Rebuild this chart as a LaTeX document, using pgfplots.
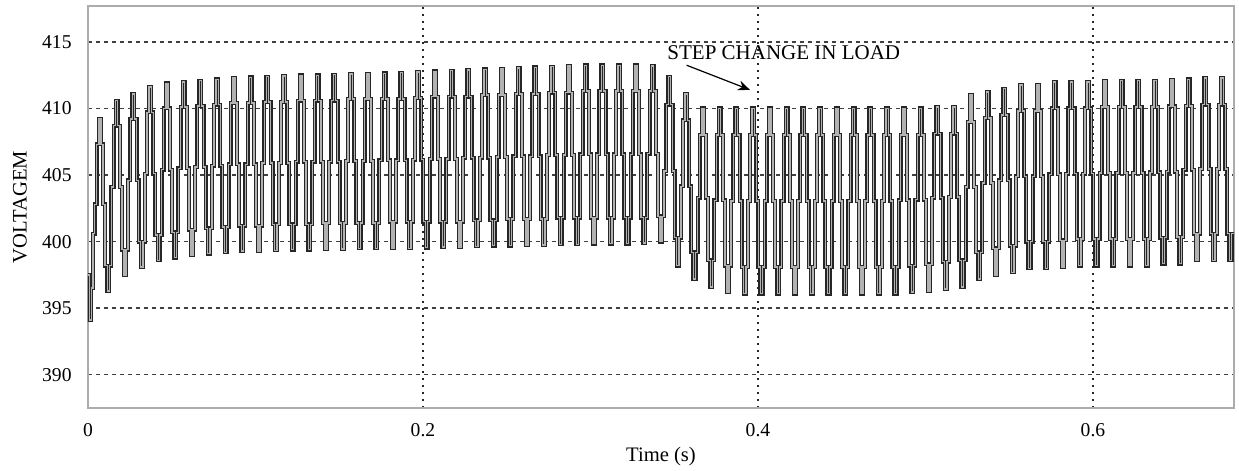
\documentclass[border=0pt]{standalone}
\usepackage{fontspec}
\setmainfont{Liberation Serif}
\usepackage{pgfplots}
\pgfplotsset{compat=1.18}
\usetikzlibrary{arrows.meta}
\begin{document}
\begin{tikzpicture}
\begin{axis}[
  scale only axis, width=573pt, height=201pt,
  xmin=0, xmax=684.2, ymin=387.5, ymax=417.7,
  xtick={0,200,400,600}, xticklabels={0,0.2,0.4,0.6},
  ytick={390,395,400,405,410,415},
  /pgf/number format/assume math mode=true,
  major tick length=0pt,
  axis line style={draw=gray!65, line width=1pt},
  grid=major,
  x grid style={black!85, line width=0.9pt, dash pattern=on 0.9pt off 2.6pt},
  y grid style={black!75, line width=0.7pt, dash pattern=on 2pt off 2pt},
  tick label style={font=\fontsize{9.8}{11}\selectfont, inner sep=0pt},
  xticklabel style={anchor=base, yshift=-14.3pt},
  yticklabel style={anchor=east, xshift=-8pt},
  xlabel={Time (s)}, ylabel={VOLTAGEM},
  label style={font=\fontsize{10.3}{12}\selectfont, inner sep=0pt},
  xlabel style={at={(axis description cs:0.5,-0.1338)}, anchor=base},
  ylabel style={at={(axis description cs:-0.0536,0.5)}, anchor=base},
]
\addplot[const plot, draw=black!85, line width=0.65pt, double=black!30, double distance=0.7pt] coordinates {
(0,397.5)(0.8,394.1)(2,396.5)(3,400.6)
(4,402.8)(5.25,407.3)(6.5,409.2)(7.75,407.3)(9,402.8)(10.25,398.2)(11.5,396.3)(12.75,398.2)
(14,404.1)(15.25,408.7)(16.5,410.6)(17.75,408.7)(19,404.1)(20.25,399.4)(21.5,397.5)(22.75,399.4)
(24,404.6)(25.25,409.2)(26.5,411.1)(27.75,409.2)(29,404.6)(30.25,400.0)(31.5,398.1)(32.75,400.0)
(34,405.1)(35.25,409.7)(36.5,411.6)(37.75,409.7)(39,405.1)(40.25,400.5)(41.5,398.6)(42.75,400.5)
(44,405.4)(45.25,410.0)(46.5,411.9)(47.75,410.0)(49,405.4)(50.25,400.7)(51.5,398.8)(52.75,400.7)
(54,405.5)(55.25,410.1)(56.5,412.0)(57.75,410.1)(59,405.5)(60.25,400.9)(61.5,399.0)(62.75,400.9)
(64,405.6)(65.25,410.2)(66.5,412.1)(67.75,410.2)(69,405.6)(70.25,401.0)(71.5,399.1)(72.75,401.0)
(74,405.7)(75.25,410.3)(76.5,412.2)(77.75,410.3)(79,405.7)(80.25,401.1)(81.5,399.2)(82.75,401.1)
(84,405.8)(85.25,410.4)(86.5,412.3)(87.75,410.4)(89,405.8)(90.25,401.2)(91.5,399.3)(92.75,401.2)
(94,405.8)(95.25,410.4)(96.5,412.35)(97.75,410.4)(99,405.8)(100.25,401.2)(101.5,399.3)(102.75,401.2)
(104,405.9)(105.25,410.5)(106.5,412.4)(107.75,410.5)(109,405.9)(110.25,401.3)(111.5,399.35)(112.75,401.3)
(114,405.9)(115.25,410.5)(116.5,412.45)(117.75,410.5)(119,405.9)(120.25,401.3)(121.5,399.4)(122.75,401.3)
(124,406.0)(125.25,410.6)(126.5,412.5)(127.75,410.6)(129,406.0)(130.25,401.3)(131.5,399.4)(132.75,401.3)
(134,406.0)(135.25,410.6)(136.5,412.5)(137.75,410.6)(139,406.0)(140.25,401.4)(141.5,399.45)(142.75,401.4)
(144,406.0)(145.25,410.6)(146.5,412.55)(147.75,410.6)(149,406.0)(150.25,401.4)(151.5,399.45)(152.75,401.4)
(154,406.05)(155.25,410.7)(156.5,412.6)(157.75,410.7)(159,406.05)(160.25,401.4)(161.5,399.5)(162.75,401.4)
(164,406.05)(165.25,410.7)(166.5,412.6)(167.75,410.7)(169,406.05)(170.25,401.4)(171.5,399.5)(172.75,401.4)
(174,406.1)(175.25,410.7)(176.5,412.65)(177.75,410.7)(179,406.1)(180.25,401.5)(181.5,399.5)(182.75,401.5)
(184,406.1)(185.25,410.7)(186.5,412.7)(187.75,410.7)(189,406.1)(190.25,401.5)(191.5,399.5)(192.75,401.5)
(194,406.15)(195.25,410.8)(196.5,412.75)(197.75,410.8)(199,406.15)(200.25,401.5)(201.5,399.55)(202.75,401.5)
(204,406.2)(205.25,410.9)(206.5,412.8)(207.75,410.9)(209,406.2)(210.25,401.5)(211.5,399.6)(212.75,401.5)
(214,406.2)(215.25,410.9)(216.5,412.85)(217.75,410.9)(219,406.2)(220.25,401.5)(221.5,399.6)(222.75,401.5)
(224,406.3)(225.25,410.9)(226.5,412.9)(227.75,410.9)(229,406.3)(230.25,401.6)(231.5,399.65)(232.75,401.6)
(234,406.3)(235.25,411.0)(236.5,412.95)(237.75,411.0)(239,406.3)(240.25,401.6)(241.5,399.7)(242.75,401.6)
(244,406.35)(245.25,411.0)(246.5,413.0)(247.75,411.0)(249,406.35)(250.25,401.7)(251.5,399.7)(252.75,401.7)
(254,406.4)(255.25,411.1)(256.5,413.05)(257.75,411.1)(259,406.4)(260.25,401.7)(261.5,399.75)(262.75,401.7)
(264,406.4)(265.25,411.1)(266.5,413.1)(267.75,411.1)(269,406.4)(270.25,401.7)(271.5,399.75)(272.75,401.7)
(274,406.5)(275.25,411.2)(276.5,413.15)(277.75,411.2)(279,406.5)(280.25,401.8)(281.5,399.8)(282.75,401.8)
(284,406.5)(285.25,411.2)(286.5,413.2)(287.75,411.2)(289,406.5)(290.25,401.8)(291.5,399.8)(292.75,401.8)
(294,406.55)(295.25,411.3)(296.5,413.25)(297.75,411.3)(299,406.55)(300.25,401.8)(301.5,399.85)(302.75,401.8)
(304,406.55)(305.25,411.3)(306.5,413.25)(307.75,411.3)(309,406.55)(310.25,401.8)(311.5,399.85)(312.75,401.8)
(314,406.55)(315.25,411.3)(316.5,413.25)(317.75,411.3)(319,406.55)(320.25,401.8)(321.5,399.85)(322.75,401.8)
(324,406.55)(325.25,411.3)(326.5,413.25)(327.75,411.3)(329,406.55)(330.25,401.8)(331.5,399.9)(332.75,401.8)
(334,406.6)(335.25,411.3)(336.5,413.2)(337.75,411.3)(339,406.6)(340.25,401.9)(341.5,400.0)(342.75,401.9)
(344,405.3)(345.25,410.3)(346.5,412.4)(347.75,410.3)(349,405.3)(350.25,400.3)(351.5,398.2)(352.75,400.3)
(354,404.15)(355.25,409.1)(356.5,411.1)(357.75,409.1)(359,404.15)(360.25,399.2)(361.5,397.2)(362.75,399.2)
(364,403.3)(365.25,408.0)(366.5,410.0)(367.75,408.0)(369,403.3)(370.25,398.6)(371.5,396.6)(372.75,398.6)
(374,403.1)(375.25,408.0)(376.5,410.0)(377.75,408.0)(379,403.1)(380.25,398.2)(381.5,396.2)(382.75,398.2)
(384,403.05)(385.25,408.0)(386.5,410.0)(387.75,408.0)(389,403.05)(390.25,398.1)(391.5,396.1)(392.75,398.1)
(394,403.05)(395.25,408.0)(396.5,410.0)(397.75,408.0)(399,403.05)(400.25,398.1)(401.5,396.1)(402.75,398.1)
(404,403.05)(405.25,408.0)(406.5,410.0)(407.75,408.0)(409,403.05)(410.25,398.1)(411.5,396.1)(412.75,398.1)
(414,403.05)(415.25,408.0)(416.5,410.0)(417.75,408.0)(419,403.05)(420.25,398.1)(421.5,396.1)(422.75,398.1)
(424,403.05)(425.25,408.0)(426.5,410.0)(427.75,408.0)(429,403.05)(430.25,398.1)(431.5,396.1)(432.75,398.1)
(434,403.05)(435.25,408.0)(436.5,410.0)(437.75,408.0)(439,403.05)(440.25,398.1)(441.5,396.1)(442.75,398.1)
(444,403.05)(445.25,408.0)(446.5,410.0)(447.75,408.0)(449,403.05)(450.25,398.1)(451.5,396.1)(452.75,398.1)
(454,403.05)(455.25,408.0)(456.5,410.0)(457.75,408.0)(459,403.05)(460.25,398.1)(461.5,396.1)(462.75,398.1)
(464,403.05)(465.25,408.0)(466.5,410.0)(467.75,408.0)(469,403.05)(470.25,398.1)(471.5,396.1)(472.75,398.1)
(474,403.05)(475.25,408.0)(476.5,410.0)(477.75,408.0)(479,403.05)(480.25,398.1)(481.5,396.1)(482.75,398.1)
(484,403.1)(485.25,408.0)(486.5,410.0)(487.75,408.0)(489,403.1)(490.25,398.2)(491.5,396.2)(492.75,398.2)
(494,403.15)(495.25,408.0)(496.5,410.0)(497.75,408.0)(499,403.15)(500.25,398.3)(501.5,396.3)(502.75,398.3)
(504,403.3)(505.25,408.1)(506.5,410.1)(507.75,408.1)(509,403.3)(510.25,398.5)(511.5,396.45)(512.75,398.5)
(514,403.35)(515.25,408.1)(516.5,410.1)(517.75,408.1)(519,403.35)(520.25,398.6)(521.5,396.6)(522.75,398.6)
(524,404.1)(525.25,409.0)(526.5,411.0)(527.75,409.0)(529,404.1)(530.25,399.2)(531.5,397.2)(532.75,399.2)
(534,404.4)(535.25,409.3)(536.5,411.25)(537.75,409.3)(539,404.4)(540.25,399.5)(541.5,397.5)(542.75,399.5)
(544,404.6)(545.25,409.5)(546.5,411.5)(547.75,409.5)(549,404.6)(550.25,399.7)(551.5,397.7)(552.75,399.7)
(554,404.9)(555.25,409.8)(556.5,411.75)(557.75,409.8)(559,404.9)(560.25,400.0)(561.5,398.0)(562.75,400.0)
(564,404.9)(565.25,409.8)(566.5,411.75)(567.75,409.8)(569,404.9)(570.25,400.0)(571.5,398.0)(572.75,400.0)
(574,405.05)(575.25,410.0)(576.5,412.0)(577.75,410.0)(579,405.05)(580.25,400.1)(581.5,398.1)(582.75,400.1)
(584,405.1)(585.25,410.0)(586.5,412.0)(587.75,410.0)(589,405.1)(590.25,400.2)(591.5,398.2)(592.75,400.2)
(594,405.1)(595.25,410.0)(596.5,412.0)(597.75,410.0)(599,405.1)(600.25,400.2)(601.5,398.2)(602.75,400.2)
(604,405.15)(605.25,410.1)(606.5,412.1)(607.75,410.1)(609,405.15)(610.25,400.2)(611.5,398.2)(612.75,400.2)
(614,405.15)(615.25,410.1)(616.5,412.1)(617.75,410.1)(619,405.15)(620.25,400.2)(621.5,398.2)(622.75,400.2)
(624,405.15)(625.25,410.1)(626.5,412.1)(627.75,410.1)(629,405.15)(630.25,400.2)(631.5,398.2)(632.75,400.2)
(634,405.2)(635.25,410.1)(636.5,412.1)(637.75,410.1)(639,405.2)(640.25,400.3)(641.5,398.35)(642.75,400.3)
(644,405.25)(645.25,410.15)(646.5,412.15)(647.75,410.15)(649,405.25)(650.25,400.35)(651.5,398.35)(652.75,400.35)
(654,405.4)(655.25,410.2)(656.5,412.2)(657.75,410.2)(659,405.4)(660.25,400.6)(661.5,398.6)(662.75,400.6)
(664,405.45)(665.25,410.3)(666.5,412.3)(667.75,410.3)(669,405.45)(670.25,400.6)(671.5,398.6)(672.75,400.6)
(674,405.45)(675.25,410.3)(676.5,412.3)(677.75,410.3)(679,405.45)(680.25,400.6)(681.5,398.6)(682.75,400.6)(685,400.6)
};
\node[anchor=base west, inner sep=0pt, font=\fontsize{10.5}{12}\selectfont] at (axis cs:345.7,413.68) {STEP CHANGE IN LOAD};
\draw[black, line width=0.6pt, -{Stealth[length=6pt,width=5pt]}] (axis cs:357.4,413.25) -- (axis cs:395.2,411.4);
\end{axis}
\pgfresetboundingbox
\path (-44pt,-31.5pt) rectangle (575.5pt,204pt);
\end{tikzpicture}
\end{document}
